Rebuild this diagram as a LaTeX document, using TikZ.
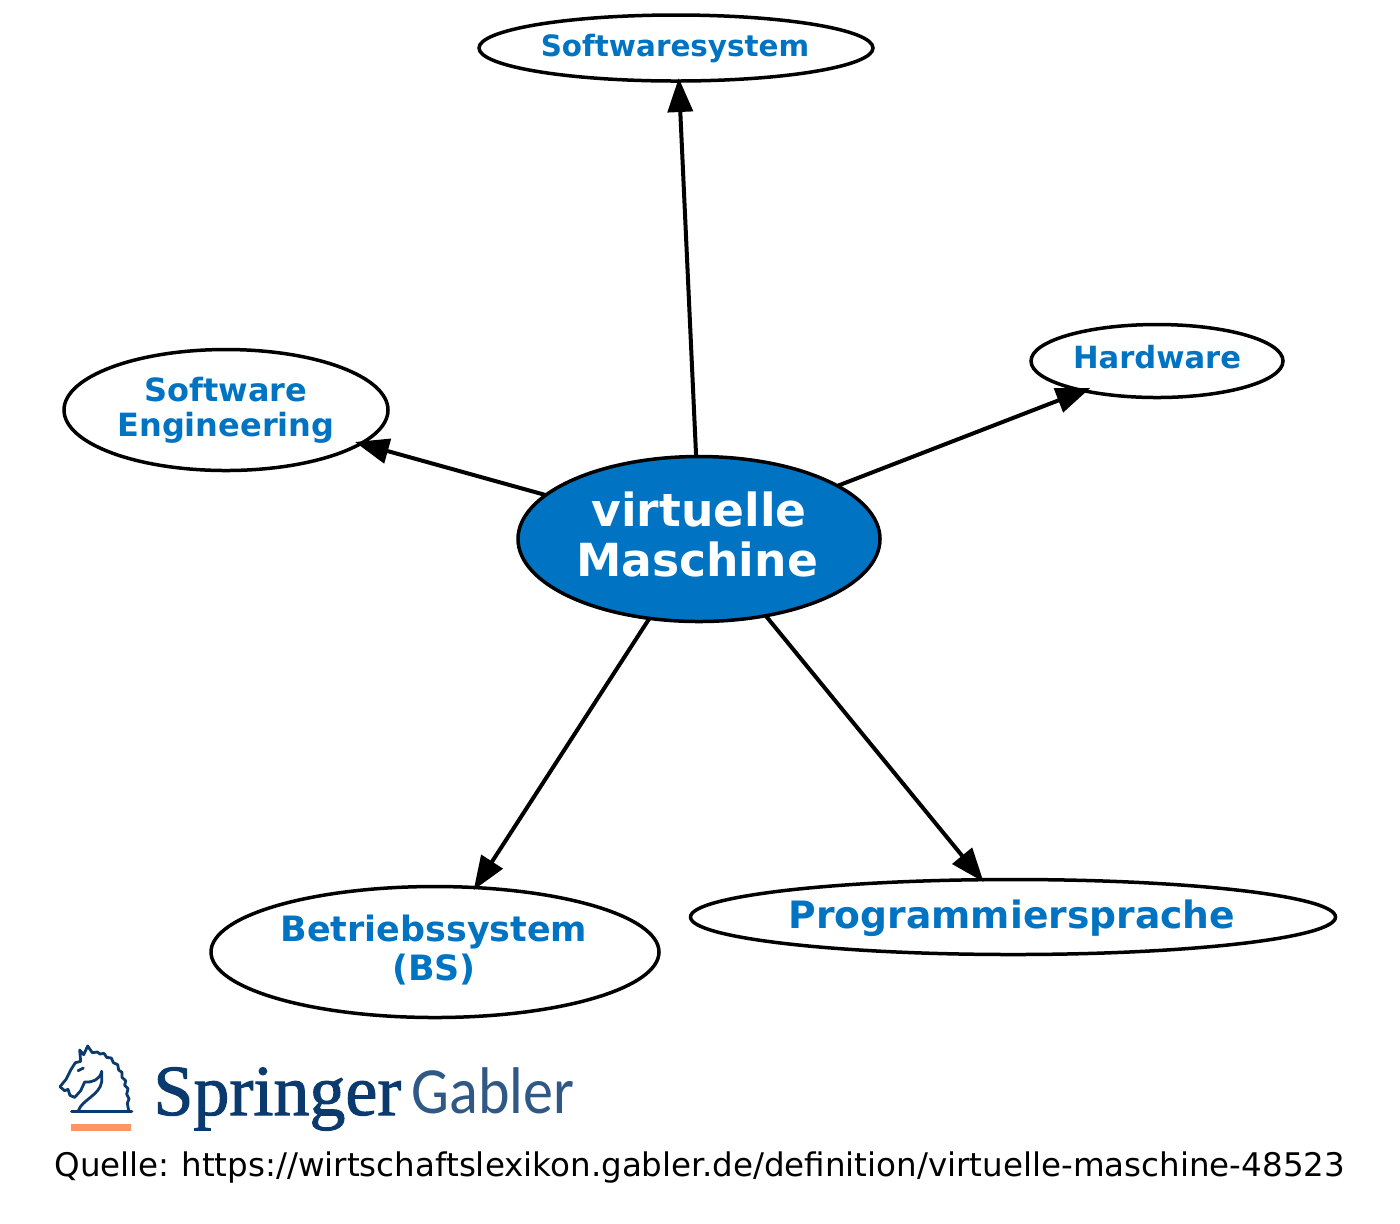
\documentclass[tikz,border=0pt]{standalone}
\usepackage{fontspec}
\setmainfont{DejaVu Sans}
\newfontfamily\sprfont[FakeBold=1.4]{Liberation Serif}
\newfontfamily\gabfont[FakeStretch=0.91]{Carlito}
\usetikzlibrary{shapes.geometric,arrows.meta,calc}
\definecolor{sblue}{HTML}{0074C2}
\definecolor{sdark}{HTML}{0B3B6E}
\definecolor{sorange}{HTML}{FF9560}
\newcommand{\lift}[2]{\raisebox{#1}[\height][\depth]{#2}}
\tikzset{
  lbl/.style={ellipse,draw=black,line width=1.75pt,fill=white,inner sep=0pt,outer sep=0pt,text=sblue,font=\bfseries,align=center},
  edge/.style={draw=black,line width=2pt,shorten >=-1.5pt,-{Triangle[length=17pt,width=12.5pt]}},
  horse/.style={draw=sdark,line width=1.4pt,line join=round,line cap=round,fill=none}
}
\begin{document}
\begin{tikzpicture}[x=0.5pt,y=-0.5pt]
\useasboundingbox (0,0) rectangle (1400,1223);
\fill[white] (0,0) rectangle (1400,1223);
\node[lbl,minimum width=181pt,minimum height=82.5pt,fill=sblue,text=white,font=\bfseries\fontsize{22.8}{25}\selectfont] (vm) at (699,539) {\lift{2.5pt}{virtuelle}\\\lift{2.5pt}{\kern-2pt Maschine}};
\node[lbl,minimum width=197pt,minimum height=33pt,font=\bfseries\fontsize{14.7}{17}\selectfont] (ss) at (676,48) {\lift{0pt}{\kern-1pt Softwaresystem}};
\node[lbl,minimum width=126pt,minimum height=36.5pt,font=\bfseries\fontsize{15.3}{18}\selectfont] (hw) at (1157,361) {\lift{2pt}{Hardware}};
\node[lbl,minimum width=162pt,minimum height=60.5pt,font=\bfseries\fontsize{16}{17.5}\selectfont] (se) at (226,410) {Software\\Engineering};
\node[lbl,minimum width=224pt,minimum height=65.5pt,font=\bfseries\fontsize{17.45}{19.5}\selectfont] (bs) at (435,952) {\lift{1pt}{\kern-1pt Betriebssystem}\\\lift{1pt}{\kern-1pt (BS)}};
\node[lbl,minimum width=322.5pt,minimum height=37.5pt,font=\bfseries\fontsize{18.83}{20}\selectfont] (ps) at (1013,917) {\lift{-0.5pt}{\kern-1pt Programmiersprache}};
\draw[edge] (vm.92.8) -- (ss.-85);
\draw[edge,shorten >=-3.5pt] (vm.21.2) -- (hw.202);
\draw[edge,shorten >=-3pt] (vm.164.2) -- (se.-14.8);
\draw[edge] (vm.-122.2) -- (bs.58.2);
\draw[edge] (vm.-49.8) -- (ps.130);
% logo
\begin{scope}[shift={(50,1040)},x=0.1667pt,y=-0.1667pt]
\draw[horse,line width=1.7pt] (65,215) -- (245,215);
\draw[horse] (30,140) -- (48,118) -- (62,90) -- (76,68) -- (92,64) -- (89,30) -- (101,44) -- (113,18) -- (127,38)
  -- (142,36) -- (150,42) -- (162,40) -- (170,52) -- (184,54) -- (190,68) -- (203,74) -- (206,90) -- (216,97)
  -- (216,112) -- (227,122) -- (224,136) -- (234,146) -- (230,162) -- (237,176) -- (232,190) -- (236,212);
\draw[horse] (30,140) -- (44,152) -- (54,148) -- (60,166) -- (74,172) -- (92,152) -- (104,126)
  .. controls (125,128) and (150,120) .. (155,94);
\draw[horse] (85,212) .. controls (95,180) and (150,165) .. (155,125) -- (155,94);
\draw[horse] (84,92) -- (100,84);
\end{scope}
\node[inner sep=0pt,anchor=base west,text=sdark,font=\sprfont\fontsize{36}{36}\selectfont] (spr) at (153,1115) {Springer};
\node[inner sep=0pt,anchor=base west,text=sdark!85!white,font=\gabfont\fontsize{33}{33}\selectfont] (gab) at (411,1113) {Gabler};
\node[inner sep=0pt,anchor=base west,text=black,font=\fontsize{16.27}{18}\selectfont] (src) at (54,1176) {Quelle:\kern-1pt{} https://wirtschaftslexikon.gabler.de/definition/virtuelle-maschine-48523};
\fill[sorange] (71,1124) rectangle (131,1131);
\end{tikzpicture}
\end{document}
